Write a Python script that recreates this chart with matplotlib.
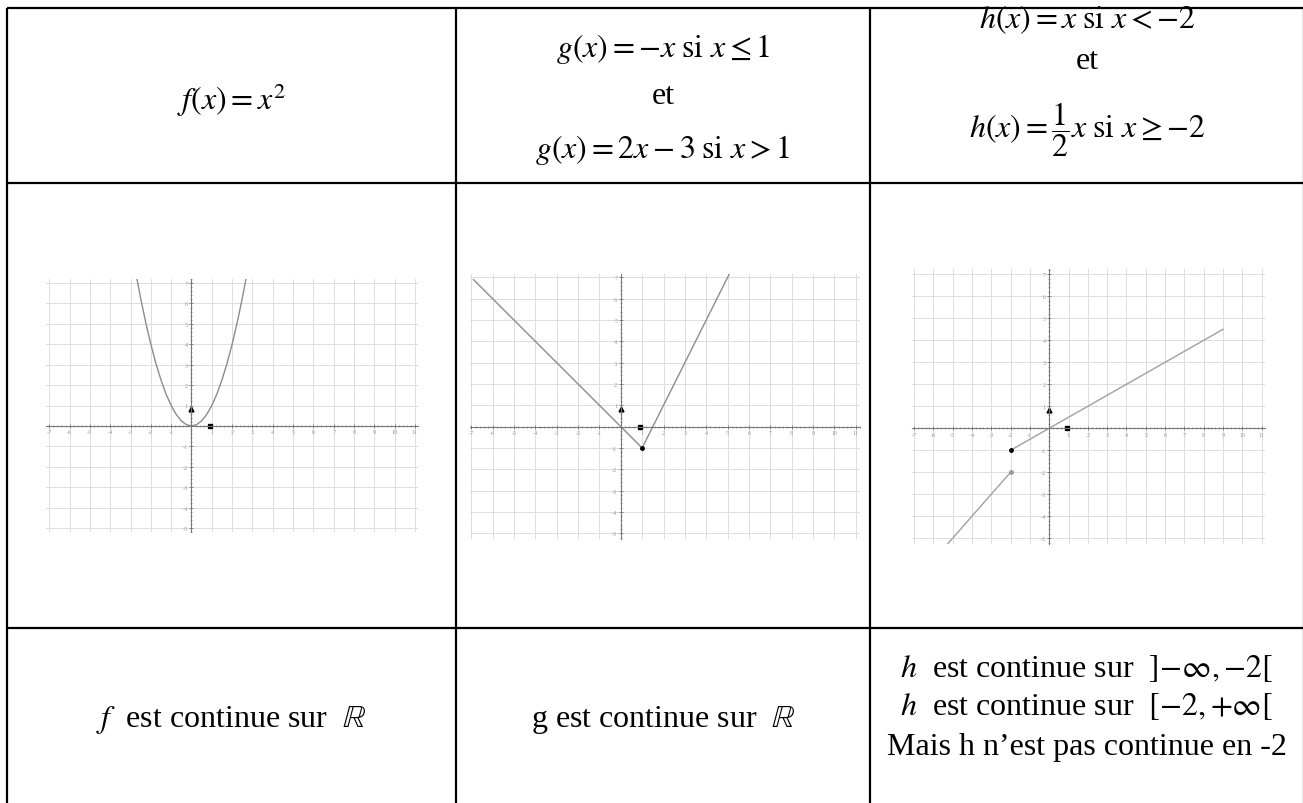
import numpy as np
import matplotlib
matplotlib.use('Agg')
import matplotlib.pyplot as plt
from matplotlib.ticker import FuncFormatter, MultipleLocator

plt.rcParams['font.family'] = 'serif'
plt.rcParams['font.serif'] = ['Liberation Serif', 'DejaVu Serif']
plt.rcParams['mathtext.fontset'] = 'stix'

# --- donnees ---
para_x = [-2.7, -2.5, -2.25, -2.0, -1.75, -1.5, -1.25, -1.0, -0.75, -0.5, -0.25, 0.0,
          0.25, 0.5, 0.75, 1.0, 1.25, 1.5, 1.75, 2.0, 2.25, 2.5, 2.7]
para_y = [7.29, 6.25, 5.06, 4.0, 3.06, 2.25, 1.56, 1.0, 0.56, 0.25, 0.06, 0.0,
          0.06, 0.25, 0.56, 1.0, 1.56, 2.25, 3.06, 4.0, 5.06, 6.25, 7.29]

g1_x = [-6.9, 1.0]
g1_y = [6.9, -1.0]
g2_x = [1.0, 5.1]
g2_y = [-1.0, 7.2]
g_pts_x = [1.0]
g_pts_y = [-1.0]

h1_x = [-5.4, -2.0]
h1_y = [-5.4, -2.0]
h2_x = [-2.0, 9.0]
h2_y = [-1.0, 4.5]
h_pts_x = [-2.0]
h_pts_y = [-1.0]
h_open_x = [-2.0]
h_open_y = [-2.0]

header_f = [r'$f(x) = x^{2}$']
header_g = [r'$g(x) = {-x}\;\mathrm{si}\ x \leq 1$', 'et', r'$g(x) = 2x - 3\;\mathrm{si}\ x > 1$']
header_h = [r'$h(x) = x\;\mathrm{si}\ x < {-2}$', 'et', r'$h(x) = \dfrac{1}{2}x\;\mathrm{si}\ x \geq {-2}$']
bottom_f = [r'$f$  est continue sur  $\mathbb{R}$']
bottom_g = [r'g est continue sur  $\mathbb{R}$']
bottom_h = [r'$h$  est continue sur  $]{-\infty},{-2}[$',
            r'$h$  est continue sur  $[{-2},{+\infty}[$',
            'Mais h n\u2019est pas continue en -2']

W, H = 1303, 804
fig = plt.figure(figsize=(W / 100, H / 100), dpi=100)

# fond : le tableau
bg = fig.add_axes([0, 0, 1, 1])
bg.set_xlim(0, W)
bg.set_ylim(H, 0)
bg.axis('off')
col_edges = [7, 456, 870, 1304]
row_edges = [9, 184, 629]
bg.vlines(col_edges, 9, H + 5, color='black', lw=1.6)
bg.hlines(row_edges, 7, W + 5, color='black', lw=1.6)

fs = 23
centres = [231, 663, 1087]

# ligne d'en-tete
bg.text(centres[0], 110, header_f[0], ha='center', va='baseline', fontsize=fs)
for txt, yb in zip(header_g, [57, 104, 158]):
    bg.text(centres[1], yb, txt, ha='center', va='baseline', fontsize=fs)
for txt, yb in zip(header_h, [28, 69, 138]):
    bg.text(centres[2], yb, txt, ha='center', va='baseline', fontsize=fs)

# ligne du bas
bg.text(centres[0], 727, bottom_f[0], ha='center', va='baseline', fontsize=fs)
bg.text(centres[1], 727, bottom_g[0], ha='center', va='baseline', fontsize=fs)
for txt, yb in zip(bottom_h, [677, 715, 755]):
    bg.text(centres[2], yb, txt, ha='center', va='baseline', fontsize=fs)


def graphe(rect, xlim, ylim):
    '''petit repere facon GeoGebra, rect en pixels (gauche, haut, largeur, hauteur)'''
    l, t, w, h = rect
    ax = fig.add_axes([l / W, 1 - (t + h) / H, w / W, h / H])
    ax.set_xlim(xlim)
    ax.set_ylim(ylim)
    ax.patch.set_alpha(0)
    ax.spines['top'].set_visible(False)
    ax.spines['right'].set_visible(False)
    ax.spines['left'].set_position(('data', 0))
    ax.spines['bottom'].set_position(('data', 0))
    for s in ['left', 'bottom']:
        ax.spines[s].set_color('#777777')
        ax.spines[s].set_linewidth(0.8)
    ax.xaxis.set_major_locator(MultipleLocator(1))
    ax.yaxis.set_major_locator(MultipleLocator(1))
    ax.xaxis.set_minor_locator(MultipleLocator(0.2))
    ax.yaxis.set_minor_locator(MultipleLocator(0.2))
    fmt = FuncFormatter(lambda v, p: '' if abs(v) < 1e-9 else '%d' % round(v))
    ax.xaxis.set_major_formatter(fmt)
    ax.yaxis.set_major_formatter(fmt)
    ax.tick_params(which='major', direction='inout', length=3, width=0.6, color='#777777',
                   labelsize=4.5, labelcolor='#9a9a9a', pad=1)
    ax.tick_params(which='minor', direction='inout', length=1.5, width=0.5, color='#888888')
    ax.grid(True, which='major', color='#dddddd', lw=0.7)
    ax.set_axisbelow(True)
    ax.plot([0], [0.85], marker='^', ms=3.5, color='black', ls='none', clip_on=False)
    ax.plot([0.9], [0], marker='s', ms=3.5, color='black', ls='none', clip_on=False)
    return ax


ax1 = graphe((46, 280, 372, 253), (-7.16, 11.15), (-5.2, 7.2))
ax1.plot(para_x, para_y, color='#8c8c8c', lw=1.0)

ax2 = graphe((470, 275, 390, 265), (-7.06, 11.2), (-5.27, 7.16))
ax2.plot(g1_x, g1_y, color='#8c8c8c', lw=1.0)
ax2.plot(g2_x, g2_y, color='#8c8c8c', lw=1.0)
ax2.plot(g_pts_x, g_pts_y, 'o', ms=2.5, color='black')

ax3 = graphe((912, 270, 353, 275), (-7.1, 11.17), (-5.26, 7.24))
ax3.plot(h1_x, h1_y, color='#a0a0a0', lw=1.0)
ax3.plot(h2_x, h2_y, color='#a0a0a0', lw=1.0)
ax3.plot(h_pts_x, h_pts_y, 'o', ms=2.5, color='black')
ax3.plot(h_open_x, h_open_y, 'o', ms=2.5, color='#999999')

fig.savefig('out.png', dpi=100)
